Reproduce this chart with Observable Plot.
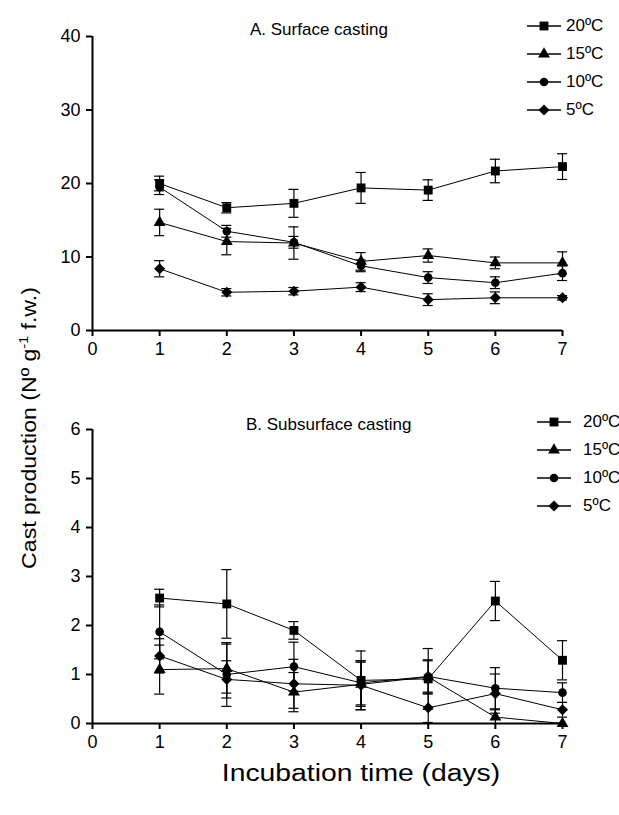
<!DOCTYPE html>
<html><head><meta charset="utf-8">
<script src="https://cdn.jsdelivr.net/npm/d3@7"></script>
<script src="https://cdn.jsdelivr.net/npm/@observablehq/plot@0.6"></script>
<style>
body{margin:0;background:#fff;}
#wrap{position:relative;width:619px;height:815px;font-family:"Liberation Sans",Arial,sans-serif;color:#000;}
#wrap svg.plot{position:absolute;left:0;}
.lab{position:absolute;white-space:nowrap;}
.leg{position:absolute;font-size:17px;line-height:20px;font-family:"Liberation Sans Narrow","Arial Narrow","Liberation Sans",Arial,sans-serif;}
.leg div{display:flex;align-items:center;}
.leg svg{margin-right:4px;}
</style></head>
<body><div id="wrap"></div>
<script>
const days = [1,2,3,4,5,6,7];
const seriesNames = ["20ºC","15ºC","10ºC","5ºC"];
const symbols = ["square","triangle","circle","diamond2"];
const symbolR = [5.0,4.4,4.3,5.0];
const xTicks = [0,1,2,3,4,5,6,7];

// A. Surface casting (means, error)
const surf20 = [20.0,16.7,17.3,19.4,19.1,21.7,22.3];
const surf20e = [1.0,0.7,1.9,2.1,1.4,1.6,1.75];
const surf15 = [14.7,12.1,11.9,9.4,10.2,9.2,9.2];
const surf15e = [1.8,1.8,2.2,1.2,0.9,0.8,1.5];
const surf10 = [19.5,13.5,12.0,8.8,7.2,6.5,7.8];
const surf10e = [1.0,0.8,0.8,0.8,0.8,0.8,1.0];
const surf5 = [8.4,5.2,5.35,5.9,4.2,4.45,4.45];
const surf5e = [1.1,0.5,0.5,0.6,0.8,0.8,0.3];
const surfTicks = [0,10,20,30,40];

// B. Subsurface casting
const sub20 = [2.56,2.44,1.9,0.88,0.91,2.5,1.29];
const sub20e = [0.18,0.7,0.18,0.6,0.62,0.4,0.4];
const sub15 = [1.1,1.12,0.64,0.8,0.95,0.13,0.0];
const sub15e = [0.5,0.5,0.4,0.45,0.35,0.15,0.0];
const sub10 = [1.87,1.0,1.16,0.83,0.96,0.72,0.63];
const sub10e = [0.55,0.65,0.5,0.45,0.32,0.42,0.2];
const sub5 = [1.38,0.9,0.81,0.78,0.32,0.61,0.28];
const sub5e = [0.35,0.38,0.5,0.5,0.3,0.4,0.15];
const subTicks = [0,1,2,3,4,5,6];

function build(vals, errs){
  const rows = [];
  vals.forEach((arr,si)=>arr.forEach((v,i)=>rows.push({series:seriesNames[si], si, day:days[i], v, e:errs[si][i]})));
  return rows;
}
const surfData = build([surf20,surf15,surf10,surf5],[surf20e,surf15e,surf10e,surf5e]);
const subData = build([sub20,sub15,sub10,sub5],[sub20e,sub15e,sub10e,sub5e]);

const cap = 0.075;
const tickFont = "Liberation Sans Narrow, Arial Narrow, Liberation Sans, Arial, sans-serif";
function panel(data, yDomain, yTicks, height, marginTop, marginBottom){
  const lo = d=>Math.max(yDomain[0], d.v-d.e), hi = d=>d.v+d.e;
  const withErr = data.filter(d=>d.e>0);
  return Plot.plot({
    width:619, height, marginLeft:92, marginRight:57, marginTop, marginBottom,
    style:{fontFamily:tickFont, fontSize:"18px", color:"#000", background:"transparent", overflow:"visible"},
    x:{domain:[0,7]},
    y:{domain:yDomain},
    symbol:{domain:seriesNames, range:symbols},
    marks:[
      Plot.ruleX(withErr,{x:"day", y1:lo, y2:hi, stroke:"#000", strokeWidth:1.2}),
      Plot.ruleY(withErr,{y:hi, x1:d=>d.day-cap, x2:d=>d.day+cap, stroke:"#000", strokeWidth:1.2}),
      Plot.ruleY(withErr.filter(d=>d.v-d.e>yDomain[0]),{y:lo, x1:d=>d.day-cap, x2:d=>d.day+cap, stroke:"#000", strokeWidth:1.2}),
      Plot.line(data,{x:"day", y:"v", z:"series", stroke:"#000", strokeWidth:1}),
      ...seriesNames.map((s,i)=>Plot.dot(data.filter(d=>d.series===s),{x:"day", y:"v", symbol:"series", fill:"#000", stroke:"none", r:symbolR[i]})),
      Plot.axisX({ticks:xTicks, tickSize:6, tickPadding:6, strokeWidth:2, label:null, tickFormat:d=>d}),
      Plot.axisY({ticks:yTicks, tickSize:6, tickPadding:6, strokeWidth:2, label:null, tickFormat:d=>d}),
      Plot.ruleY([yDomain[0]],{stroke:"#000", strokeWidth:2}),
      Plot.ruleX([0],{stroke:"#000", strokeWidth:2})
    ]
  });
}

const wrap = document.getElementById("wrap");
const p1 = panel(surfData,[0,40],surfTicks,365,36,35);
p1.classList.add("plot"); p1.style.top="0px";
wrap.appendChild(p1);
const p2 = panel(subData,[0,6],subTicks,370,39,37);
p2.classList.add("plot"); p2.style.top="390px";
wrap.appendChild(p2);

function addLabel(html, css){
  const d=document.createElement("div"); d.className="lab"; d.innerHTML=html; Object.assign(d.style,css); wrap.appendChild(d); return d;
}
addLabel("A. Surface casting",{left:"250px",top:"20px",fontSize:"17px"});
addLabel("B. Subsurface casting",{left:"246px",top:"415px",fontSize:"17px"});
addLabel("Incubation time (days)",{left:"361px",top:"773px",fontSize:"23px",transform:"translate(-50%,-50%) scaleX(1.23)"});
addLabel("Cast production (Nº g<sup style='font-size:13px'>-1</sup> f.w.)",{left:"28px",top:"428px",fontSize:"21px",transform:"translate(-50%,-50%) rotate(-90deg) scaleX(1.1)"});

function legend(left, top, textLeft, rowH){
  const L=document.createElement("div"); L.className="leg";
  Object.assign(L.style,{left:left+"px", top:top+"px"});
  seriesNames.forEach((s,i)=>{
    const row=document.createElement("div"); row.style.height=rowH+"px";
    const w=34, h=14;
    const sym=d3.symbol(d3["symbol"+{square:"Square",triangle:"Triangle",circle:"Circle",diamond2:"Diamond2"}[symbols[i]]], Math.PI*symbolR[i]*symbolR[i])();
    row.innerHTML=`<svg width="${w}" height="${h}"><line x1="0" x2="${w}" y1="${h/2}" y2="${h/2}" stroke="#000" stroke-width="1.3"/><path d="${sym}" transform="translate(${w/2},${h/2})" fill="#000"/></svg><span style="margin-left:${textLeft}px">${s}</span>`;
    L.appendChild(row);
  });
  wrap.appendChild(L);
}
legend(527,12,1,28);
legend(537,408,8,28);
</script></body></html>
